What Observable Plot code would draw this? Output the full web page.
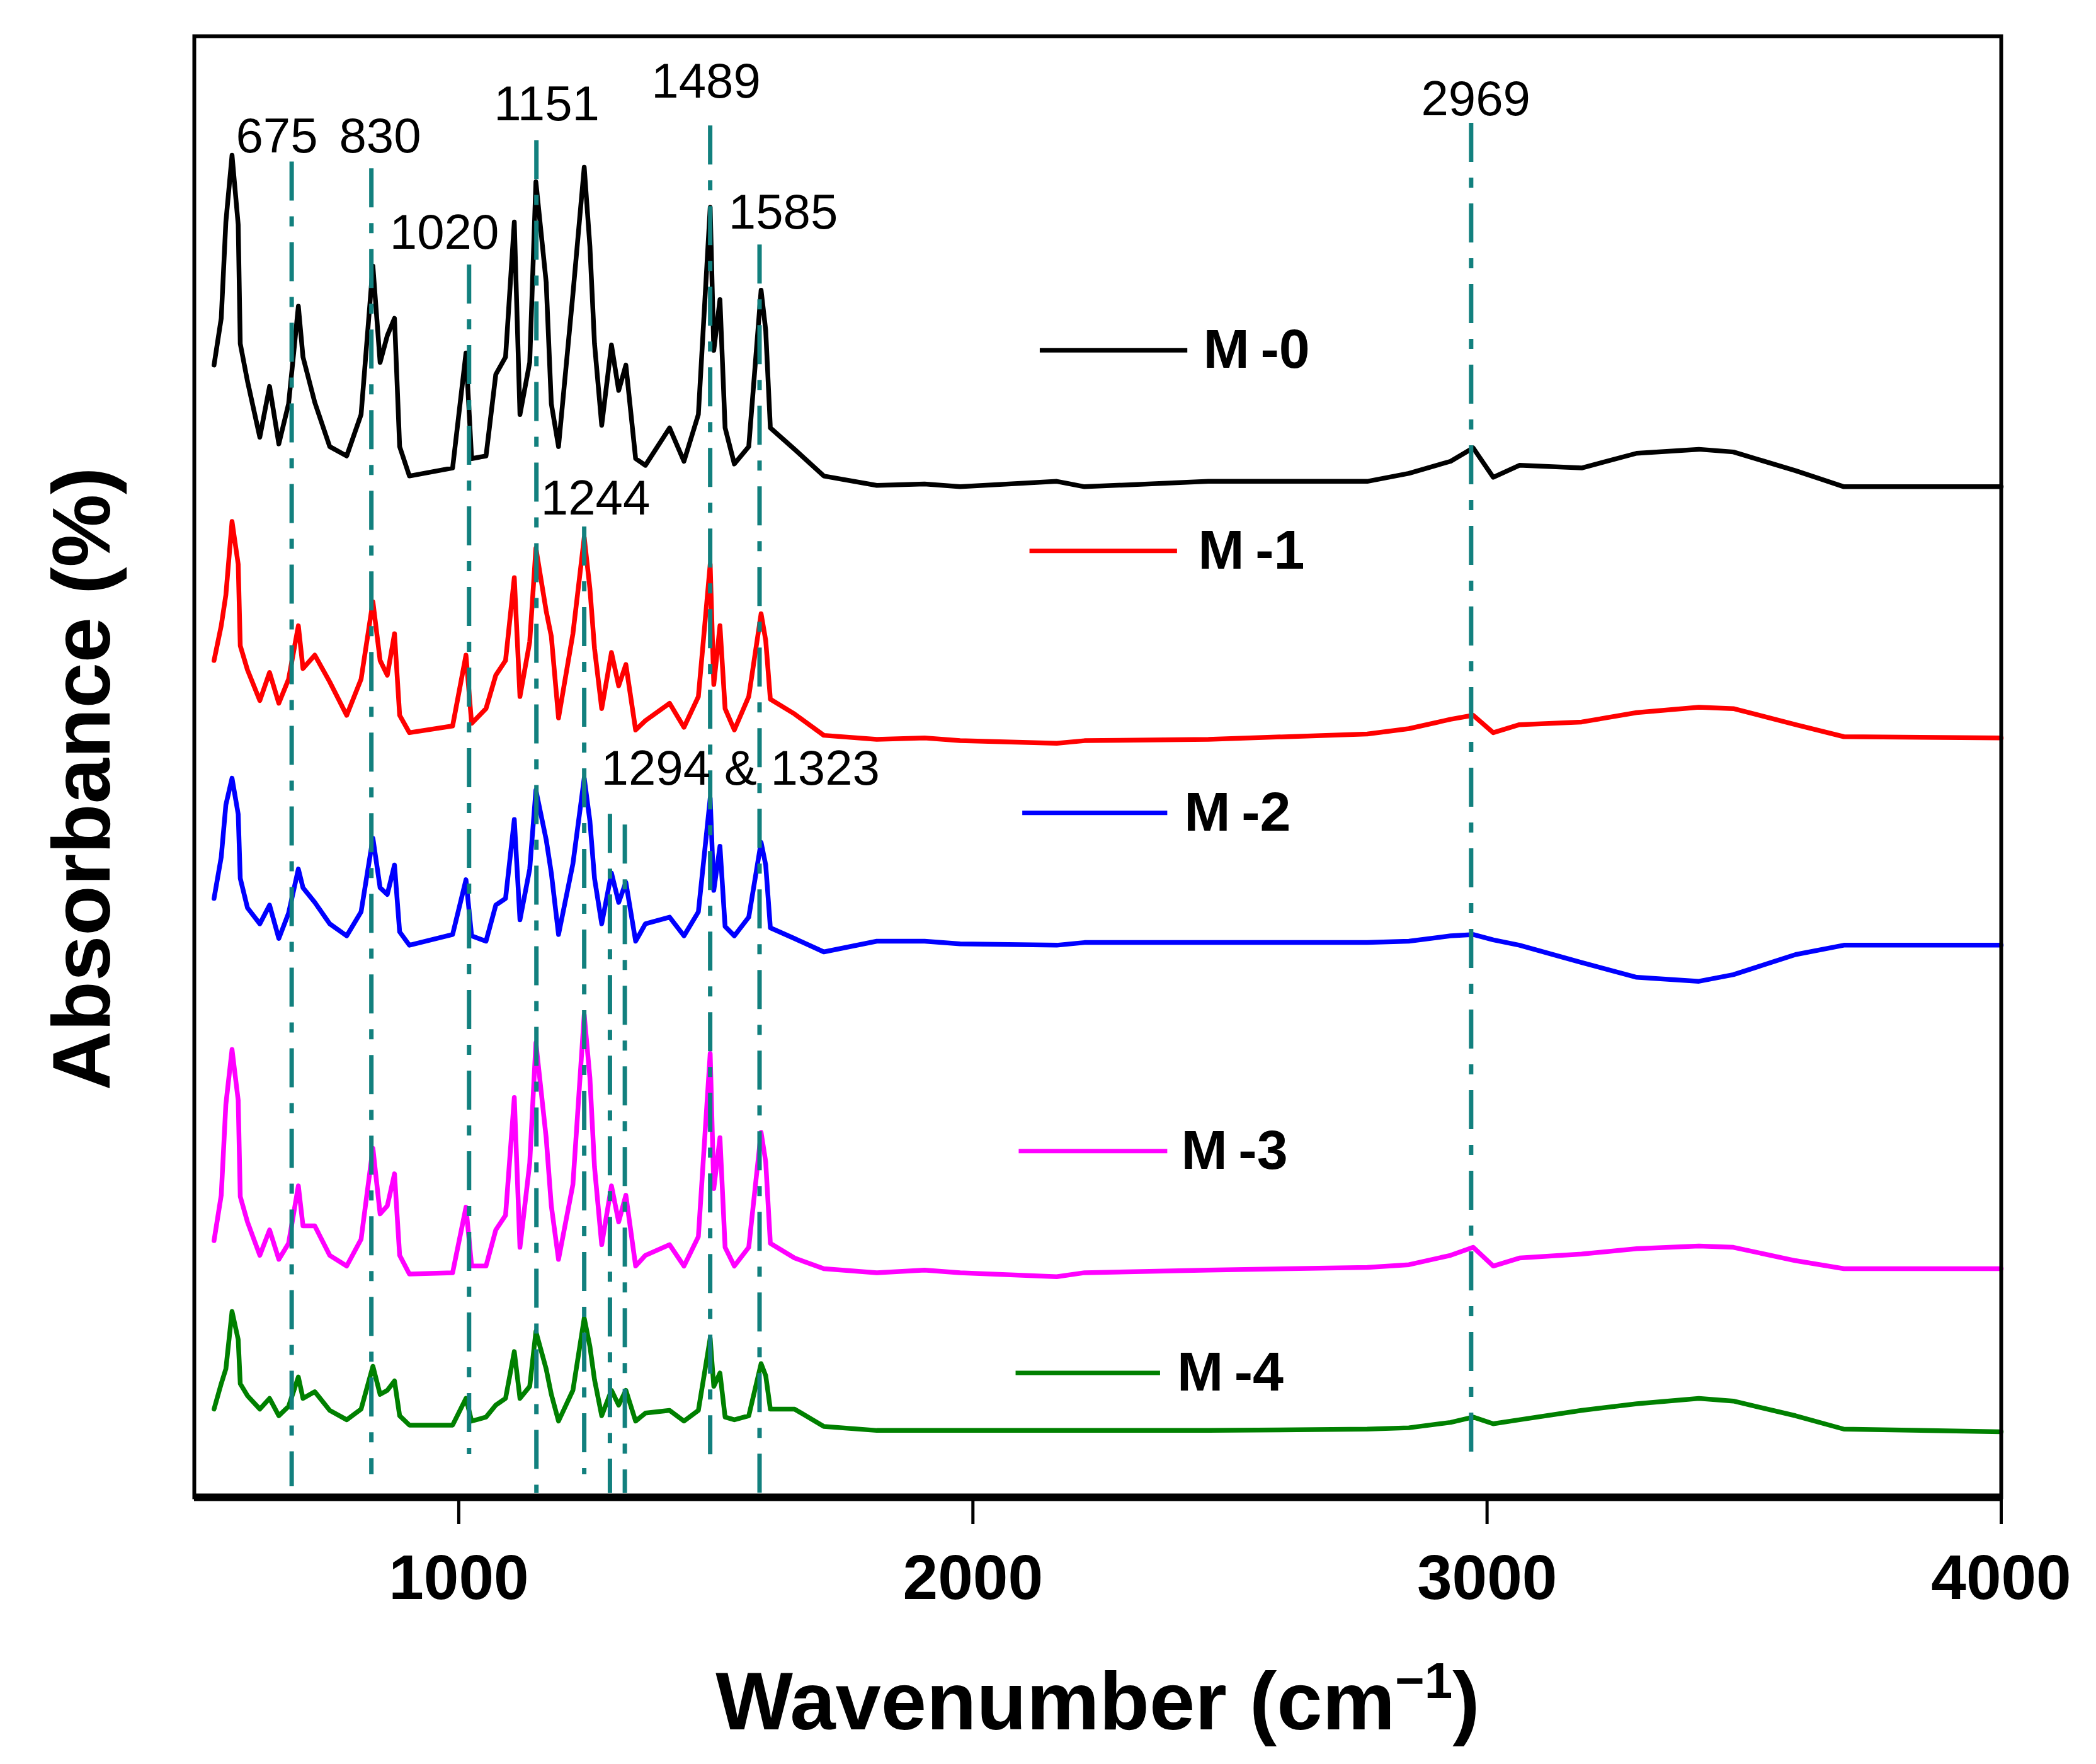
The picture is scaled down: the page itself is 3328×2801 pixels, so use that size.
<!DOCTYPE html>
<html>
<head>
<meta charset="utf-8">
<script src="https://cdn.jsdelivr.net/npm/d3@7"></script>
<script src="https://cdn.jsdelivr.net/npm/@observablehq/plot@0.6"></script>
<style>
html, body { margin: 0; padding: 0; background: #ffffff; }
g[aria-label="x-axis tick label"] text { font-weight: bold; }
</style>
</head>
<body>
<div id="chart"></div>
<script>
// ---------- DATA (offset absorbance, arbitrary units) ----------
const wavenumber = [524, 538, 547, 559, 571, 575, 589, 613, 632, 650,
  669, 688, 697, 720, 749, 782, 810, 833, 847, 861,
  875, 885, 904, 988, 1014, 1025, 1053, 1072, 1091, 1108,
  1119, 1138, 1150, 1170, 1180, 1194, 1222, 1244, 1255, 1264,
  1278, 1297, 1311, 1325, 1344, 1363, 1410, 1438, 1466, 1489,
  1496, 1508, 1518, 1536, 1564, 1588, 1597, 1606, 1653, 1710,
  1813, 1906, 1975, 2163, 2217, 2458, 2767, 2848, 2929, 2973,
  3012, 3063, 3184, 3291, 3412, 3479, 3600, 3694, 4000];

const seriesNames = ["M-0", "M-1", "M-2", "M-3", "M-4"];

const m0 = [847, 882, 954, 1004, 952, 863, 835, 793, 831, 788,
  818, 891, 853, 819, 786, 779, 810, 921, 849, 869,
  882, 786, 764, 770, 856, 777, 779, 840, 853, 954,
  810, 849, 984, 909, 818, 786, 900, 995, 936, 863,
  802, 862, 828, 847, 777, 772, 800, 775, 810, 965,
  858, 896, 800, 773, 786, 903, 873, 800, 784, 764,
  757, 758, 756, 760, 756, 760, 760, 766, 775, 785,
  763, 772, 770, 781, 784, 782, 768, 756, 756];

const m1 = [626, 652, 675, 730, 698, 637, 619, 596, 617, 594,
  612, 652, 620, 630, 610, 585, 612, 670, 626, 615,
  646, 585, 572, 577, 630, 579, 590, 615, 626, 688,
  599, 640, 710, 663, 644, 583, 646, 718, 680, 635,
  590, 632, 607, 623, 574, 581, 594, 576, 599, 698,
  608, 652, 590, 574, 599, 661, 641, 597, 586, 570,
  567, 568, 566, 564, 566, 567, 571, 575, 582, 585,
  572, 578, 580, 587, 591, 590, 578, 569, 568];

const m2 = [448, 479, 518, 538, 511, 463, 441, 429, 443, 418,
  437, 470, 456, 445, 429, 420, 438, 493, 456, 451,
  473, 423, 413, 421, 462, 420, 416, 443, 448, 507,
  432, 470, 529, 492, 467, 421, 474, 538, 506, 463,
  429, 467, 445, 460, 416, 429, 434, 420, 438, 523,
  454, 487, 427, 420, 434, 490, 473, 426, 418, 408,
  416, 416, 414, 413, 415, 415, 415, 416, 420, 421,
  417, 413, 400, 389, 386, 391, 406, 413, 413];

const m3 = [192, 226, 294, 335, 297, 225, 206, 181, 200, 178,
  190, 233, 203, 203, 181, 173, 193, 261, 212, 218,
  242, 181, 167, 168, 217, 173, 173, 200, 211, 299,
  187, 250, 340, 269, 218, 178, 234, 361, 314, 247,
  189, 233, 206, 226, 173, 181, 189, 173, 195, 332,
  231, 269, 187, 173, 187, 273, 251, 190, 179, 171,
  168, 170, 168, 165, 168, 170, 172, 174, 181, 187,
  173, 179, 182, 186, 188, 187, 177, 171, 171];

const m4 = [66, 85, 96, 139, 118, 85, 76, 66, 74, 61,
  68, 90, 74, 79, 65, 58, 66, 98, 77, 80,
  87, 61, 54, 54, 74, 57, 60, 69, 74, 109,
  74, 83, 124, 96, 77, 57, 80, 134, 113, 88,
  61, 80, 69, 80, 57, 63, 65, 57, 65, 119,
  83, 93, 60, 58, 61, 100, 91, 66, 66, 53,
  50, 50, 50, 50, 50, 50, 51, 52, 56, 60,
  55, 58, 65, 70, 74, 72, 61, 51, 49];

// marked bands (dash-dot guide lines)
const peakWavenumbers = [675, 830, 1020, 1151, 1244, 1294, 1323, 1489, 1585, 2969];
const peakLineTop     = [999, 994, 922, 1015, 726, 511, 503, 1026, 937, 1028];
const peakLineBottom  = [8, 17, 32, 3, 17, 3, 3, 21, 3, 23];

// band annotations
const peakLabels = ["675", "830", "1020", "1151", "1244", "1294 & 1323", "1489", "1585", "2969"];
const peakLabelX = [646, 847, 972, 1171, 1266, 1548, 1481, 1631, 2978];
const peakLabelY = [1006, 1006, 934, 1030, 735, 533, 1047, 949, 1034];

// axis ticks
const xTicks = [1000, 2000, 3000, 4000];
const xTickLabels = ["1000", "2000", "3000", "4000"];

// in-plot legend layout (data coordinates)
const legendX1 = [2130, 2110, 2096, 2089, 2083];
const legendX2 = [2417, 2397, 2378, 2378, 2364];
const legendTextX = [2448, 2438, 2411, 2405, 2397];
const legendY = [858, 708, 512, 259, 93];

// ---------- BUILD ----------
const colors = ["#000000", "#ff0000", "#0000ff", "#ff00ff", "#008000"];
const valuesBySeries = [m0, m1, m2, m3, m4];
const spectra = seriesNames.flatMap((name, s) =>
  wavenumber.map((wn, i) => ({name, wn, a: valuesBySeries[s][i]})));
const peaks = peakWavenumbers.map((wn, i) => ({wn, top: peakLineTop[i], bottom: peakLineBottom[i]}));
const labels = peakLabels.map((t, i) => ({t, x: peakLabelX[i], y: peakLabelY[i]}));
const legend = seriesNames.map((name, i) => ({name, x1: legendX1[i], x2: legendX2[i], tx: legendTextX[i], y: legendY[i]}));

const FONT = '"Liberation Sans", Arial, Helvetica, sans-serif';
const XTITLE = "Wavenumber (cm-1)";

const plot = Plot.plot({
  width: 3328,
  height: 2801,
  marginLeft: 308,
  marginRight: 151,
  marginTop: 57,
  marginBottom: 424,
  style: {background: "#ffffff", fontFamily: FONT, color: "#000000", overflow: "visible"},
  x: {domain: [485.6, 4000], axis: null},
  y: {domain: [0, 1093], axis: null},
  color: {domain: seriesNames, range: colors},
  marks: [
    Plot.line(spectra, {x: "wn", y: "a", z: "name", stroke: "name", strokeWidth: 7.5, strokeLinejoin: "round", strokeLinecap: "round"}),
    Plot.ruleX(peaks, {x: "wn", y1: "top", y2: "bottom", stroke: "#12807e", strokeWidth: 7, strokeDasharray: "62,25,16,25"}),
    Plot.text(labels, {x: "x", y: "y", text: "t", fontSize: 78, textAnchor: "middle", lineAnchor: "bottom", fill: "#000000"}),
    Plot.link(legend, {x1: "x1", x2: "x2", y1: "y", y2: "y", stroke: "name", strokeWidth: 7}),
    Plot.text(legend, {x: "tx", y: "y", text: d => d.name.replace("-", "\u2009-"), fontSize: 88, fontWeight: "bold", textAnchor: "start", lineAnchor: "middle", fill: "#000000"}),
    Plot.frame({stroke: "#000000", strokeWidth: 6}),
    Plot.ruleY([0], {stroke: "#000000", strokeWidth: 12}),
    Plot.axisX({ticks: xTicks, tickFormat: d => xTickLabels[xTicks.indexOf(d)], tickSize: 43, tickPadding: 47,
      fontSize: 100, fontWeight: "bold", strokeWidth: 5, label: null, fill: "#000000"}),
    Plot.text([XTITLE], {text: d => d, frameAnchor: "bottom", dy: 368, textAnchor: "middle", lineAnchor: "bottom", fontSize: 130, fontWeight: "bold", fill: "#000000"}),
    Plot.text(["Absorbance (%)"], {text: d => d, frameAnchor: "left", dx: -176, dy: 19, rotate: -90, textAnchor: "middle", lineAnchor: "middle", fontSize: 130, fontWeight: "bold", fill: "#000000"})
  ]
});

// superscript for the x-axis title
d3.select(plot).selectAll("text")
  .filter(function () { return this.textContent === XTITLE; })
  .each(function () {
    const t = d3.select(this);
    t.text(null);
    t.append("tspan").text("Wavenumber (cm");
    t.append("tspan").attr("dy", -50).attr("font-size", 80).text("\u22121");
    t.append("tspan").attr("dy", 50).text(")");
  });

document.getElementById("chart").appendChild(plot);
</script>
</body>
</html>
